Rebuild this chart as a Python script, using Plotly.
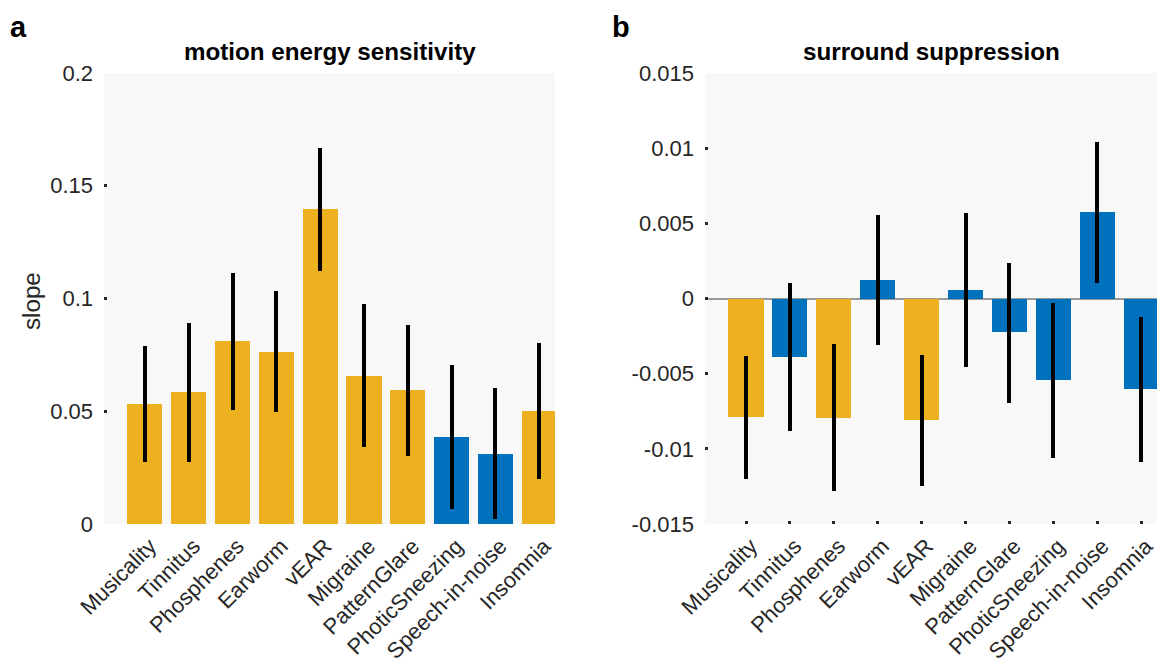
import plotly.graph_objects as go

categories = ["Musicality", "Tinnitus", "Phosphenes", "Earworm", "vEAR", "Migraine",
              "PatternGlare", "PhoticSneezing", "Speech-in-noise", "Insomnia"]

# panel a: motion energy sensitivity (slope, CI lower, CI upper)
motion_val = [0.0532, 0.0584, 0.0812, 0.0764, 0.1396, 0.0658, 0.0593, 0.0384, 0.0310, 0.0501]
motion_lo = [0.0276, 0.0276, 0.0507, 0.0495, 0.1123, 0.0341, 0.0303, 0.0067, 0.0021, 0.0200]
motion_hi = [0.0789, 0.0890, 0.1114, 0.1032, 0.1666, 0.0974, 0.0881, 0.0705, 0.0602, 0.0801]
motion_grp = ["y", "y", "y", "y", "y", "y", "y", "b", "b", "y"]

# panel b: surround suppression
surr_val = [-0.00788, -0.00387, -0.00793, 0.00121, -0.00810, 0.00055, -0.00225, -0.00542, 0.00573, -0.00602]
surr_lo = [-0.01203, -0.00881, -0.01283, -0.00309, -0.01249, -0.00454, -0.00693, -0.01061, 0.00105, -0.01088]
surr_hi = [-0.00380, 0.00105, -0.00305, 0.00553, -0.00378, 0.00567, 0.00236, -0.00032, 0.01039, -0.00121]
surr_grp = ["y", "b", "y", "b", "y", "b", "b", "b", "b", "b"]

yticks_a = [0, 0.05, 0.1, 0.15, 0.2]
yticklabels_a = ["0", "0.05", "0.1", "0.15", "0.2"]
yticks_b = [-0.015, -0.01, -0.005, 0, 0.005, 0.01, 0.015]
yticklabels_b = ["-0.015", "-0.01", "-0.005", "0", "0.005", "0.01", "0.015"]

COLORS = {"y": "#EDB120", "b": "#0072BD"}
FONT = "Liberation Sans, Arial, sans-serif"
TICKCOL = "#262626"

xpos = list(range(1, len(categories) + 1))

fig = go.Figure()


def add_panel(vals, lo, hi, grp, xa, ya):
    fig.add_trace(go.Bar(
        x=xpos, y=vals, width=0.8,
        marker=dict(color=[COLORS[g] for g in grp], line=dict(width=0)),
        error_y=dict(type="data", symmetric=False,
                     array=[h - v for h, v in zip(hi, vals)],
                     arrayminus=[v - l for v, l in zip(vals, lo)],
                     color="black", thickness=4, width=0),
        xaxis=xa, yaxis=ya, showlegend=False, hoverinfo="skip"))


add_panel(motion_val, motion_lo, motion_hi, motion_grp, "x", "y")
add_panel(surr_val, surr_lo, surr_hi, surr_grp, "x2", "y2")

ydom = [1 - 524 / 665, 1 - 73 / 665]
xdom_a = [104 / 1157, 555 / 1157]
xdom_b = [705 / 1157, 1.0]

xcommon = dict(range=[0.066, 10.36], tickmode="array", tickvals=xpos, ticktext=categories,
               tickangle=-45, ticks="inside", ticklen=3, tickwidth=3, tickcolor=TICKCOL,
               showgrid=False, zeroline=False, showline=False, layer="below traces",
               automargin=False, ticklabelstandoff=4, ticklabelshift=5,
               ticklabeloverflow="allow",
               tickfont=dict(family=FONT, size=22, color=TICKCOL), fixedrange=True)

ycommon = dict(tickmode="array", ticks="", showgrid=False, showline=False,
               automargin=False, ticklabelstandoff=10,
               tickfont=dict(family=FONT, size=22, color=TICKCOL))

fig.update_layout(
    width=1157, height=665,
    margin=dict(l=0, r=0, t=0, b=0, autoexpand=False),
    paper_bgcolor="white", plot_bgcolor="#f8f8f8",
    bargap=0,
    xaxis=dict(domain=xdom_a, anchor="y", **xcommon),
    xaxis2=dict(domain=xdom_b, anchor="y2", **xcommon),
    yaxis=dict(domain=ydom, anchor="x", range=[0, 0.2],
               tickvals=yticks_a, ticktext=yticklabels_a, zeroline=False,
               minor=dict(tickmode="array", tickvals=yticks_a[1:-1], ticks="inside",
                          ticklen=3, tickwidth=3, tickcolor=TICKCOL, showgrid=False),
               **ycommon),
    yaxis2=dict(domain=ydom, anchor="x2", range=[-0.015, 0.015],
                tickvals=yticks_b, ticktext=yticklabels_b,
                zeroline=True, zerolinecolor="#999999", zerolinewidth=1.5,
                minor=dict(tickmode="array", tickvals=yticks_b[1:-1], ticks="inside",
                           ticklen=3, tickwidth=3, tickcolor=TICKCOL, showgrid=False),
                **ycommon),
)

ann = [
    dict(text="<b>motion energy sensitivity</b>", x=(xdom_a[0] + xdom_a[1]) / 2, y=1 - 52 / 665,
         font=dict(size=24.2)),
    dict(text="<b>surround suppression</b>", x=(xdom_b[0] + xdom_b[1]) / 2, y=1 - 52 / 665,
         font=dict(size=24.2)),
    dict(text="<b>a</b>", x=18 / 1157, y=1 - 27 / 665, font=dict(size=29)),
    dict(text="<b>b</b>", x=621 / 1157, y=1 - 27 / 665, font=dict(size=29)),
    dict(text="slope", x=31 / 1157, y=1 - 301 / 665, textangle=-90,
         font=dict(size=24.2, color=TICKCOL)),
]
for a in ann:
    a.setdefault("xref", "paper")
    a.setdefault("yref", "paper")
    a["showarrow"] = False
    a["xanchor"] = "center"
    a["yanchor"] = "middle"
    f = a["font"]
    f.setdefault("family", FONT)
    f.setdefault("color", "black")
    fig.add_annotation(**a)

fig.write_html("out.html")
